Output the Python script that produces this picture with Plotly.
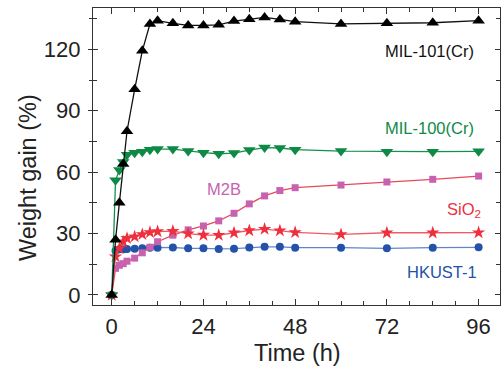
import plotly.graph_objects as go

time_h = [0, 1, 2, 3, 4, 6, 8, 10, 12, 16, 20, 24, 28, 32, 36, 40, 44, 48, 60, 72, 84, 96]

mil101 = [0, 27, 45, 64, 80, 100.5, 119.3, 132.4, 134, 132.7, 131.7, 131.7, 132, 133.8, 134.7, 135.6, 134.6, 133.5, 132.4, 132.7, 133, 134]
mil100 = [0, 56, 61, 65, 68.5, 69.5, 70, 71, 71.3, 71.3, 70.3, 69.5, 69, 69.3, 70.8, 72, 71.8, 71, 70.3, 70, 70, 70.2]
m2b = [0, 13, 14.5, 15.3, 16.5, 18, 20.6, 23.3, 26, 29.2, 31.8, 33.7, 36.2, 39.9, 44.5, 48.4, 51, 52.4, 53.7, 55.2, 56.5, 58.1]
sio2 = [0, 18.7, 22.8, 26, 27.7, 28.5, 29.6, 30.6, 31, 31.2, 30, 29.3, 29.2, 30.4, 31.5, 32.2, 31.4, 30.6, 29.6, 30.4, 30.4, 30.5]
hkust = [0, 21.6, 22.3, 22.3, 22.4, 22.6, 22.8, 23.1, 23.1, 23.2, 22.8, 22.8, 22.5, 22.6, 23.2, 23.5, 23.5, 23.1, 23.1, 22.8, 23.1, 23.3]

x_ticks = [0, 24, 48, 72, 96]
y_ticks = [0, 30, 60, 90, 120]

FONT = "Liberation Sans, Arial, Helvetica, sans-serif"

series = [
    # name, values, line colour, marker colour, symbol, size
    ("HKUST-1", hkust, "#5f86c8", "#2452a8", "circle", 8),
    ("M2B", m2b, "#e8485c", "#c862b0", "square", 7),
    ("SiO2", sio2, "#f05a68", "#ee2f3c", "star", 10),
    ("MIL-100(Cr)", mil100, "#139050", "#0e8a46", "triangle-down", 11),
    ("MIL-101(Cr)", mil101, "#111111", "#000000", "triangle-up", 11),
]

fig = go.Figure()
for name, vals, lc, mc, sym, sz in series:
    fig.add_trace(go.Scatter(
        x=time_h, y=vals, mode="lines+markers", name=name,
        line=dict(color=lc, width=1.3),
        marker=dict(color=mc, symbol=sym, size=sz, line=dict(width=0)),
        showlegend=False,
    ))

# dummy trace for secondary y axis (outer ticks on the left)
fig.add_trace(go.Scatter(x=[None], y=[None], yaxis="y2", showlegend=False, hoverinfo="skip"))

W, H = 502, 367
L, R, T, B = 93, 500, 8, 305  # plot area in pixels


def fx(px):
    return (px - L) / (R - L)


def fy(py):
    return (B - py) / (B - T)


labels = [
    ("MIL-101(Cr)", 429, 51, "#111111", 16.5),
    ("MIL-100(Cr)", 429, 128, "#0e8a46", 16.5),
    ("M2B", 224, 189, "#c862b0", 16.5),
    ("SiO<sub>2</sub>", 464, 210, "#ee2f3c", 16.5),
    ("HKUST-1", 442, 272, "#2452a8", 16.5),
    ("Time (h)", 297, 353, "#222222", 23.5),
]
annotations = []
for txt, px, py, col, fs in labels:
    annotations.append(dict(
        text=txt, x=fx(px), y=fy(py), xref="paper", yref="paper",
        showarrow=False, font=dict(family=FONT, size=fs, color=col),
        xanchor="center", yanchor="middle",
    ))
annotations.append(dict(
    text="Weight gain (%)", x=fx(28), y=fy(178), xref="paper", yref="paper",
    showarrow=False, textangle=-90, font=dict(family=FONT, size=23.5, color="#222222"),
    xanchor="center", yanchor="middle",
))

fig.update_layout(
    width=W, height=H,
    margin=dict(l=L, r=W - R, t=T, b=H - B),
    paper_bgcolor="white", plot_bgcolor="white",
    font=dict(family=FONT, size=22, color="#222222"),
    xaxis=dict(
        range=[-4.9, 101.6], tickvals=x_ticks, ticks="inside", ticklen=6,
        tickcolor="#333", tickwidth=1, showline=True, linecolor="#333", linewidth=1.2,
        mirror="ticks", showgrid=False, zeroline=False, automargin=False,
        minor=dict(dtick=6, tick0=0, ticks="inside", ticklen=3.5, tickcolor="#333"),
        tickfont=dict(size=22), ticklabelstandoff=1,
    ),
    yaxis=dict(
        range=[-4.9, 140.2], tickvals=y_ticks, ticks="inside", ticklen=5,
        tickcolor="#333", tickwidth=1, showline=True, linecolor="#333", linewidth=1.2,
        mirror="ticks", showgrid=False, zeroline=False, automargin=False,
        minor=dict(dtick=15, tick0=0, ticks="inside", ticklen=3.5, tickcolor="#333"),
        tickfont=dict(size=22), ticklabelstandoff=7,
    ),
    yaxis2=dict(
        range=[-4.9, 140.2], overlaying="y", side="left", tickvals=y_ticks,
        ticks="outside", ticklen=4, tickcolor="#333", showticklabels=False,
        showgrid=False, zeroline=False, showline=False, automargin=False,
        minor=dict(dtick=15, tick0=0, ticks="outside", ticklen=3, tickcolor="#333"),
    ),
    annotations=annotations,
)

fig.write_html(
    "out.html",
    config={"displayModeBar": False},
    post_script="document.body.style.margin='0';document.body.style.padding='0';",
)
